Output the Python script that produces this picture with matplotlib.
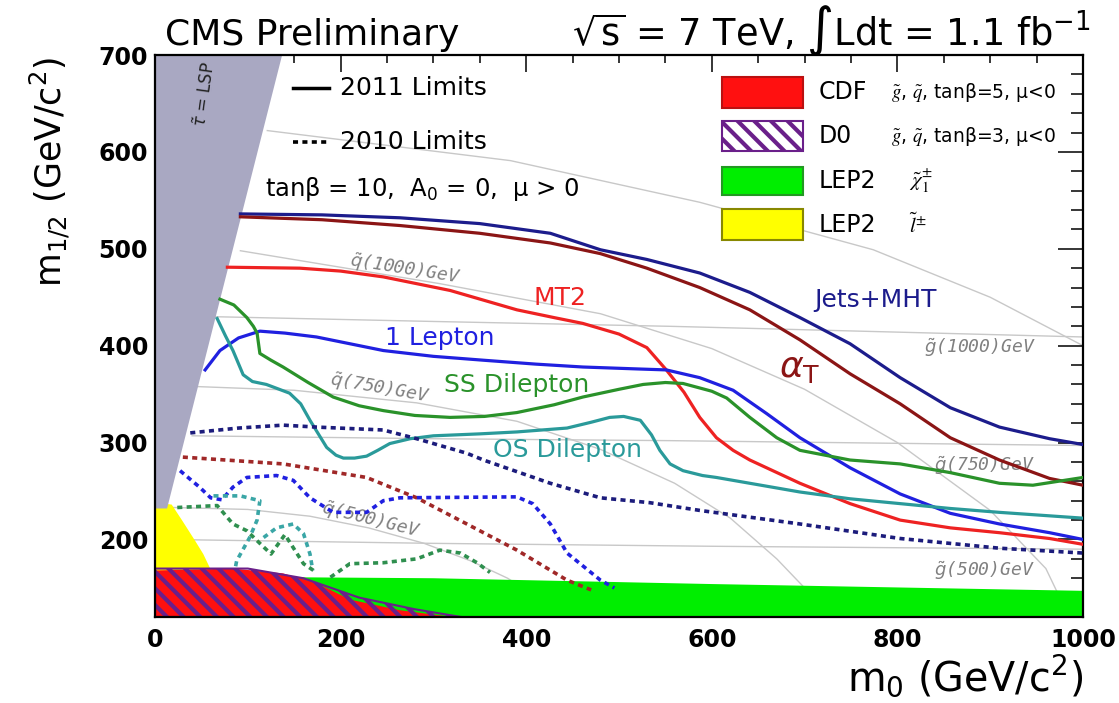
import matplotlib
matplotlib.use("Agg")
import matplotlib.pyplot as plt
from matplotlib.patches import Polygon, Rectangle
import numpy as np

# ---------------- data ----------------
# 2011 limits (solid)
jets_x = [92, 180, 264, 350, 426, 480, 530, 587, 641, 695, 749, 803, 857, 910, 964, 1000]
jets_y = [536, 535, 532, 526, 516, 499, 489, 475, 455, 429, 402, 367, 336, 316, 304, 298]

alphat_x = [92, 180, 264, 350, 426, 480, 530, 587, 641, 695, 749, 803, 857, 910, 964, 1000]
alphat_y = [533, 530, 524, 516, 506, 495, 480, 460, 437, 406, 371, 340, 305, 282, 263, 256]

mt2_x = [78, 156, 200, 246, 318, 390, 430, 461, 500, 530, 551, 570, 587, 605, 623, 641, 659, 695, 749, 803, 857, 910, 964, 1000]
mt2_y = [481, 480, 477, 471, 457, 437, 429, 423, 412, 398, 375, 352, 326, 305, 292, 282, 274, 258, 237, 220, 212, 207, 201, 195]

lep_x = [54, 70, 90, 113, 140, 174, 210, 246, 300, 354, 410, 461, 520, 551, 587, 623, 659, 695, 749, 803, 857, 910, 964, 1000]
lep_y = [375, 395, 408, 415, 413, 409, 402, 395, 389, 385, 381, 378, 376, 375, 367, 354, 330, 305, 274, 247, 227, 216, 207, 200]

ss_x = [70, 85, 99, 106, 110, 113, 125, 138, 165, 192, 220, 246, 280, 318, 355, 390, 430, 461, 500, 526, 550, 569, 600, 616, 641, 670, 695, 749, 803, 857, 910, 946, 1000]
ss_y = [448, 442, 429, 420, 413, 392, 385, 378, 362, 347, 338, 333, 328, 326, 327, 331, 339, 347, 355, 360, 362, 361, 353, 346, 326, 305, 292, 282, 278, 269, 258, 256, 264]

os_x = [67, 76, 84, 95, 105, 120, 145, 157, 167, 185, 195, 203, 215, 228, 240, 253, 275, 300, 350, 390, 444, 470, 490, 505, 523, 535, 544, 555, 569, 590, 605, 641, 695, 749, 803, 857, 910, 1000]
os_y = [428, 410, 395, 370, 363, 360, 351, 340, 323, 295, 287, 284, 284, 286, 292, 299, 304, 307, 309, 311, 315, 321, 326, 327, 323, 308, 292, 278, 271, 266, 264, 258, 249, 242, 237, 232, 228, 222]

# 2010 limits (dotted)
jets10_x = [38, 90, 138, 174, 246, 282, 336, 354, 426, 480, 533, 587, 695, 803, 910, 1000]
jets10_y = [310, 315, 318, 316, 313, 304, 289, 282, 258, 243, 238, 230, 216, 201, 191, 186]

at10_x = [30, 138, 228, 282, 336, 390, 444, 470]
at10_y = [285, 278, 264, 243, 216, 189, 158, 148]

lep10_x = [27, 48, 60, 72, 84, 99, 131, 149, 167, 192, 228, 246, 264, 390, 407, 426, 444, 480, 495]
lep10_y = [271, 254, 243, 241, 254, 264, 266, 261, 243, 228, 228, 240, 243, 244, 237, 216, 186, 158, 150]

os10_x = [63, 92, 113, 110, 102, 88, 86]
os10_y = [245, 245, 240, 220, 202, 178, 168]
os10b_x = [117, 131, 149, 160, 167, 170]
os10b_y = [202, 212, 216, 206, 185, 168]

ss10_x = [24, 67, 84, 99, 113, 125, 140, 160, 174]
ss10_y = [233, 235, 216, 209, 196, 185, 205, 175, 166]
ss10b_x = [189, 210, 246, 282, 307, 329, 347, 361]
ss10b_y = [161, 175, 176, 180, 189, 186, 176, 166]

# excluded regions
stau_x = [0, 137, 13, 0]
stau_y = [700, 700, 232, 232]
lepsl_x = [0, 0, 10, 18, 29, 43, 52, 59, 62, 62]
lepsl_y = [120, 232, 237, 236, 220, 199, 185, 171, 165, 120]
lepch_x = [0, 0, 300, 600, 1000, 1000]
lepch_y = [120, 162, 160, 154, 147, 120]
cdf_x = [0, 0, 84, 138, 174, 210, 264, 320]
cdf_y = [120, 168, 170, 165, 155, 138, 127, 120]
d0_x = [0, 0, 100, 160, 220, 280, 330]
d0_y = [120, 170, 170, 160, 140, 128, 120]

# iso-mass lines
g500_x, g500_y = [15, 300, 600, 1000], [200, 196, 193, 190]
g750_x, g750_y = [40, 300, 555, 1000], [307, 304, 302, 297]
g1000_x, g1000_y = [60, 300, 555, 800, 1000], [430, 425, 420, 414, 409]
q500_x = [20, 100, 167, 230, 290, 340, 380, 420, 440]
q500_y = [233, 231, 224, 212, 196, 178, 160, 135, 120]
q750_x = [40, 150, 282, 390, 480, 560, 620, 670, 700, 720]
q750_y = [358, 354, 341, 322, 293, 258, 222, 180, 150, 120]
q1000_x = [92, 307, 480, 600, 700, 800, 900, 960, 985]
q1000_y = [498, 464, 433, 397, 355, 300, 230, 170, 120]
q1250_x = [121, 383, 587, 774, 900, 1000]
q1250_y = [622, 591, 548, 499, 450, 400]

# ---------------- figure ----------------
W, H = 1119, 703
fig = plt.figure(figsize=(W / 100, H / 100), dpi=100)
L, R, T, B = 155, 1083, 55, 617
ax = fig.add_axes([L / W, 1 - B / H, (R - L) / W, (B - T) / H])
ax.set_xlim(0, 1000)
ax.set_ylim(120, 700)

grey = "#c8c8c8"
for xs, ys in [(g500_x, g500_y), (g750_x, g750_y), (g1000_x, g1000_y),
               (q500_x, q500_y), (q750_x, q750_y), (q1000_x, q1000_y), (q1250_x, q1250_y)]:
    ax.plot(xs, ys, color=grey, lw=1.0, zorder=1)

isofont = dict(family="DejaVu Sans Mono", style="italic", color="#808080", fontsize=13, zorder=1.2,
               ha="center", va="center")
ax.text(269, 478, r"$\tilde{q}$(1000)GeV", rotation=-9, **isofont)
ax.text(242, 356, r"$\tilde{q}$(750)GeV", rotation=-10, **isofont)
ax.text(232, 220, r"$\tilde{q}$(500)GeV", rotation=-14, **isofont)
ax.text(889, 398, r"$\tilde{g}$(1000)GeV", **isofont)
ax.text(894, 276, r"$\tilde{g}$(750)GeV", **isofont)
ax.text(894, 168, r"$\tilde{g}$(500)GeV", **isofont)

ax.add_patch(Polygon(list(zip(lepch_x, lepch_y)), closed=True, facecolor="#00ee00", edgecolor="none", zorder=2))
ax.add_patch(Polygon(list(zip(lepsl_x, lepsl_y)), closed=True, facecolor="#ffff00", edgecolor="none", zorder=2.1))
ax.add_patch(Polygon(list(zip(cdf_x, cdf_y)), closed=True, facecolor="#ff1010", edgecolor="none", zorder=2.2))
plt.rcParams["hatch.linewidth"] = 3.0
ax.add_patch(Polygon(list(zip(d0_x, d0_y)), closed=True, facecolor="none", edgecolor="#6a1f8a",
                     hatch="\\\\", lw=1.5, zorder=2.3))
ax.add_patch(Polygon(list(zip(stau_x, stau_y)), closed=True, facecolor="#a9a8c2", edgecolor="none", zorder=2.5))
ax.text(54, 659, r"$\tilde{\tau}$ = LSP", rotation=82, fontsize=12, ha="center", va="center", zorder=2.6, color="#222222")

lw = 2.3
dots = (0, (1.4, 1.2))
ax.plot(jets_x, jets_y, color="#1c1c8c", lw=lw, zorder=4)
ax.plot(alphat_x, alphat_y, color="#8b1515", lw=lw, zorder=4)
ax.plot(mt2_x, mt2_y, color="#ee2222", lw=lw, zorder=4)
ax.plot(lep_x, lep_y, color="#2020e0", lw=lw, zorder=4)
ax.plot(ss_x, ss_y, color="#2a922a", lw=lw, zorder=4)
ax.plot(os_x, os_y, color="#2a9a9a", lw=lw, zorder=4)

ax.plot(jets10_x, jets10_y, color="#1c1c7c", lw=2.6, ls=dots, zorder=4)
ax.plot(at10_x, at10_y, color="#a02828", lw=2.6, ls=dots, zorder=4)
ax.plot(lep10_x, lep10_y, color="#2020e0", lw=2.6, ls=dots, zorder=4)
ax.plot(os10_x, os10_y, color="#3aa6a6", lw=2.6, ls=dots, zorder=4)
ax.plot(os10b_x, os10b_y, color="#3aa6a6", lw=2.6, ls=dots, zorder=4)
ax.plot(ss10_x, ss10_y, color="#2f8f4f", lw=2.6, ls=dots, zorder=4)
ax.plot(ss10b_x, ss10b_y, color="#2f8f4f", lw=2.6, ls=dots, zorder=4)

# curve labels
lab = dict(fontsize=18, ha="center", va="center", zorder=5)
ax.text(436, 449, "MT2", color="#ee2222", **lab)
ax.text(776, 447, "Jets+MHT", color="#1c1c8c", **lab)
ax.text(307, 408, "1 Lepton", color="#2020e0", **lab)
ax.text(390, 359, "SS Dilepton", color="#2a922a", **lab)
ax.text(444, 292, "OS Dilepton", color="#2a9a9a", **lab)
ax.text(695, 377, r"$\alpha_{\rm T}$", color="#8b1515", fontsize=26, ha="center", va="center", zorder=5)

# in-plot legend (lines)
tf = ax.transAxes
ax.plot([0.149, 0.188], [0.941, 0.941], transform=tf, color="black", lw=2.5)
ax.text(0.199, 0.941, "2011 Limits", transform=tf, fontsize=18, va="center")
ax.plot([0.149, 0.188], [0.846, 0.846], transform=tf, color="black", lw=2.6, ls=dots)
ax.text(0.199, 0.846, "2010 Limits", transform=tf, fontsize=18, va="center")
ax.text(0.118, 0.762, "tanβ = 10,  A$_0$ = 0,  μ > 0", transform=tf, fontsize=17.5, va="center")

# in-plot legend (boxes)
boxes = [(0.961, 0.906, "#ff1010", None, "#bb1010"),
         (0.882, 0.829, "white", "\\\\", "#6a1f8a"),
         (0.801, 0.751, "#00ee00", None, "#229922"),
         (0.726, 0.671, "#ffff00", None, "#888800")]
for top, bot, fc, hatch, ec in boxes:
    ax.add_patch(Rectangle((0.611, bot), 0.087, top - bot, transform=tf, facecolor=fc,
                           edgecolor=ec, hatch=hatch, lw=1.5, zorder=6))
tx = 0.715
ax.text(tx, 0.934, "CDF", transform=tf, fontsize=17, va="center", zorder=6)
ax.text(tx + 0.078, 0.934, r"$\tilde{g}$, $\tilde{q}$, tanβ=5, μ<0", transform=tf, fontsize=13.5,
        va="center", math_fontfamily="stix", zorder=6)
ax.text(tx, 0.855, "D0", transform=tf, fontsize=17, va="center", zorder=6)
ax.text(tx + 0.078, 0.855, r"$\tilde{g}$, $\tilde{q}$, tanβ=3, μ<0", transform=tf, fontsize=13.5,
        va="center", math_fontfamily="stix", zorder=6)
ax.text(tx, 0.776, "LEP2", transform=tf, fontsize=17, va="center", zorder=6)
ax.text(tx + 0.098, 0.776, r"$\tilde{\chi}^{\pm}_{1}$", transform=tf, fontsize=15, va="center",
        math_fontfamily="stix", zorder=6)
ax.text(tx, 0.698, "LEP2", transform=tf, fontsize=17, va="center", zorder=6)
ax.text(tx + 0.098, 0.698, r"$\tilde{l}^{\pm}$", transform=tf, fontsize=15, va="center",
        math_fontfamily="stix", zorder=6)

# axes styling
ax.set_xticks([0, 200, 400, 600, 800, 1000])
ax.set_yticks([200, 300, 400, 500, 600, 700])
ax.set_xticks(np.arange(0, 1001, 50), minor=True)
ax.set_yticks(np.arange(120, 701, 20), minor=True)
ax.tick_params(axis="both", which="both", direction="in", top=True, right=True, width=1.1, color="black")
ax.tick_params(axis="x", which="major", length=12, pad=8, labelsize=17)
ax.tick_params(axis="x", which="minor", length=6)
ax.tick_params(axis="y", which="major", length=18, pad=5, labelsize=17)
ax.tick_params(axis="y", which="minor", length=9)
for lbl in ax.get_xticklabels() + ax.get_yticklabels():
    lbl.set_fontweight("bold")
for s in ax.spines.values():
    s.set_linewidth(1.6)

fig.text(1083 / W, 1 - 690 / H, r"m$_0$ (GeV/c$^2$)", fontsize=28.5, ha="right", va="baseline")
fig.text(50 / W, 1 - 172 / H, r"m$_{1/2}$ (GeV/c$^2$)", fontsize=25, rotation=90, ha="center", va="center")
fig.text(165 / W, 1 - 45 / H, "CMS Preliminary", fontsize=26, va="baseline")
fig.text(1090 / W, 1 - 45 / H, r"$\sqrt{\mathrm{s}}$ = 7 TeV, ∫Ldt = 1.1 fb$^{-1}$", fontsize=26.5,
         ha="right", va="baseline")

fig.savefig("out.png", dpi=100)
